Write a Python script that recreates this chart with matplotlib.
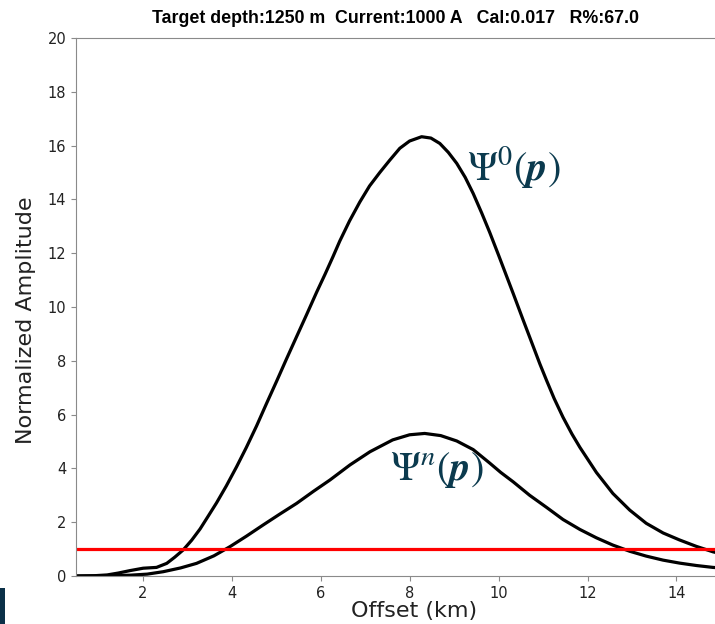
import numpy as np
import matplotlib
matplotlib.use("Agg")
from matplotlib import pyplot as plt
from matplotlib.patches import Rectangle

plt.rcParams.update({
    "font.family": "DejaVu Sans",
    "mathtext.fontset": "stix",
})

# Normalized amplitude vs. offset (km) for the two responses
offset_psi0 = [0.5, 0.9, 1.2, 1.45, 1.71, 2.01, 2.31, 2.54, 2.72, 2.91, 3.1, 3.29, 3.47,
               3.66, 3.88, 4.11, 4.33, 4.56, 4.78, 5.01, 5.23, 5.46, 5.68, 5.91, 6.1,
               6.28, 6.43, 6.65, 6.88, 7.1, 7.33, 7.55, 7.78, 8.0, 8.27, 8.48, 8.68,
               8.87, 9.06, 9.25, 9.43, 9.62, 9.8, 10.0, 10.18, 10.33, 10.55, 10.7,
               10.93, 11.08, 11.25, 11.45, 11.65, 11.83, 12.2, 12.57, 12.95, 13.32,
               13.7, 14.07, 14.45, 14.82, 15.0]
amp_psi0 = [0.0, 0.01, 0.04, 0.11, 0.20, 0.29, 0.32, 0.47, 0.7, 0.97, 1.33, 1.75, 2.22,
            2.72, 3.35, 4.06, 4.78, 5.58, 6.4, 7.24, 8.06, 8.9, 9.7, 10.55, 11.22,
            11.88, 12.45, 13.2, 13.9, 14.5, 15.0, 15.45, 15.9, 16.17, 16.33, 16.28, 16.08,
            15.75, 15.34, 14.82, 14.22, 13.5, 12.78, 11.93, 11.15, 10.5, 9.53, 8.88,
            7.88, 7.27, 6.6, 5.9, 5.28, 4.78, 3.85, 3.07, 2.45, 1.96,
            1.6, 1.34, 1.1, 0.90, 0.83]

offset_psin = [0.5, 1.2, 1.71, 2.1, 2.46, 2.85, 3.21, 3.6, 3.96, 4.33, 4.71, 5.08, 5.46,
               5.84, 6.21, 6.66, 7.11, 7.62, 8.0, 8.34, 8.7, 9.06, 9.43, 9.8, 10.05,
               10.33, 10.7, 11.08, 11.45, 11.83, 12.2, 12.57, 12.95, 13.32, 13.7,
               14.07, 14.45, 14.82, 15.0]
amp_psin = [0.0, 0.01, 0.03, 0.07, 0.16, 0.3, 0.47, 0.75, 1.09, 1.48, 1.90, 2.3, 2.70,
            3.15, 3.57, 4.13, 4.62, 5.06, 5.25, 5.30, 5.22, 5.02, 4.7, 4.2, 3.85,
            3.5, 3.0, 2.55, 2.1, 1.73, 1.42, 1.15, 0.92, 0.74, 0.59,
            0.48, 0.39, 0.32, 0.3]

threshold = 1.0
title = "Target depth:1250 m  Current:1000 A   Cal:0.017   R%:67.0"

fig = plt.figure(figsize=(7.15, 6.24), dpi=100)
ax = fig.add_axes([0.1063, 0.0769, 0.902, 0.8622])

ax.plot(offset_psi0, amp_psi0, color="black", linewidth=2.3, solid_joinstyle="round")
ax.plot(offset_psin, amp_psin, color="black", linewidth=2.3, solid_joinstyle="round")
ax.axhline(threshold, color="red", linewidth=2.3)

ax.text(9.3, 15.2, r"$\Psi^0(\boldsymbol{p})$", color="#0b3a4e", fontsize=29,
        ha="left", va="center")
ax.text(7.55, 3.95, r"$\Psi^n(\boldsymbol{p})$", color="#0b3a4e", fontsize=29,
        ha="left", va="center")

ax.set_xlim(0.5, 15)
ax.set_ylim(0, 20)
ax.set_xticks(np.arange(2, 16, 2))
ax.set_yticks(np.arange(0, 22, 2))
for side in ["left", "bottom", "top", "right"]:
    ax.spines[side].set_color("#8a8a8a")
ax.tick_params(colors="#8a8a8a", labelcolor="#222222", labelsize=10.5)

ax.set_xlabel("Offset (km)", fontsize=16, color="#222222")
ax.xaxis.set_label_coords(0.524, -0.047)
ax.set_ylabel("Normalized Amplitude", fontsize=16, color="#222222")
ax.yaxis.set_label_coords(-0.062, 0.476)

fig.text(0.553, 0.971, title, fontsize=12.8, fontweight="bold",
         family="Liberation Sans", ha="center", va="center")

# dark strip in the bottom-left corner
fig.patches.append(Rectangle((0, 0), 5 / 715, 36 / 624, transform=fig.transFigure,
                             facecolor="#0b3048", edgecolor="none"))

fig.savefig("out.png", dpi=100)
